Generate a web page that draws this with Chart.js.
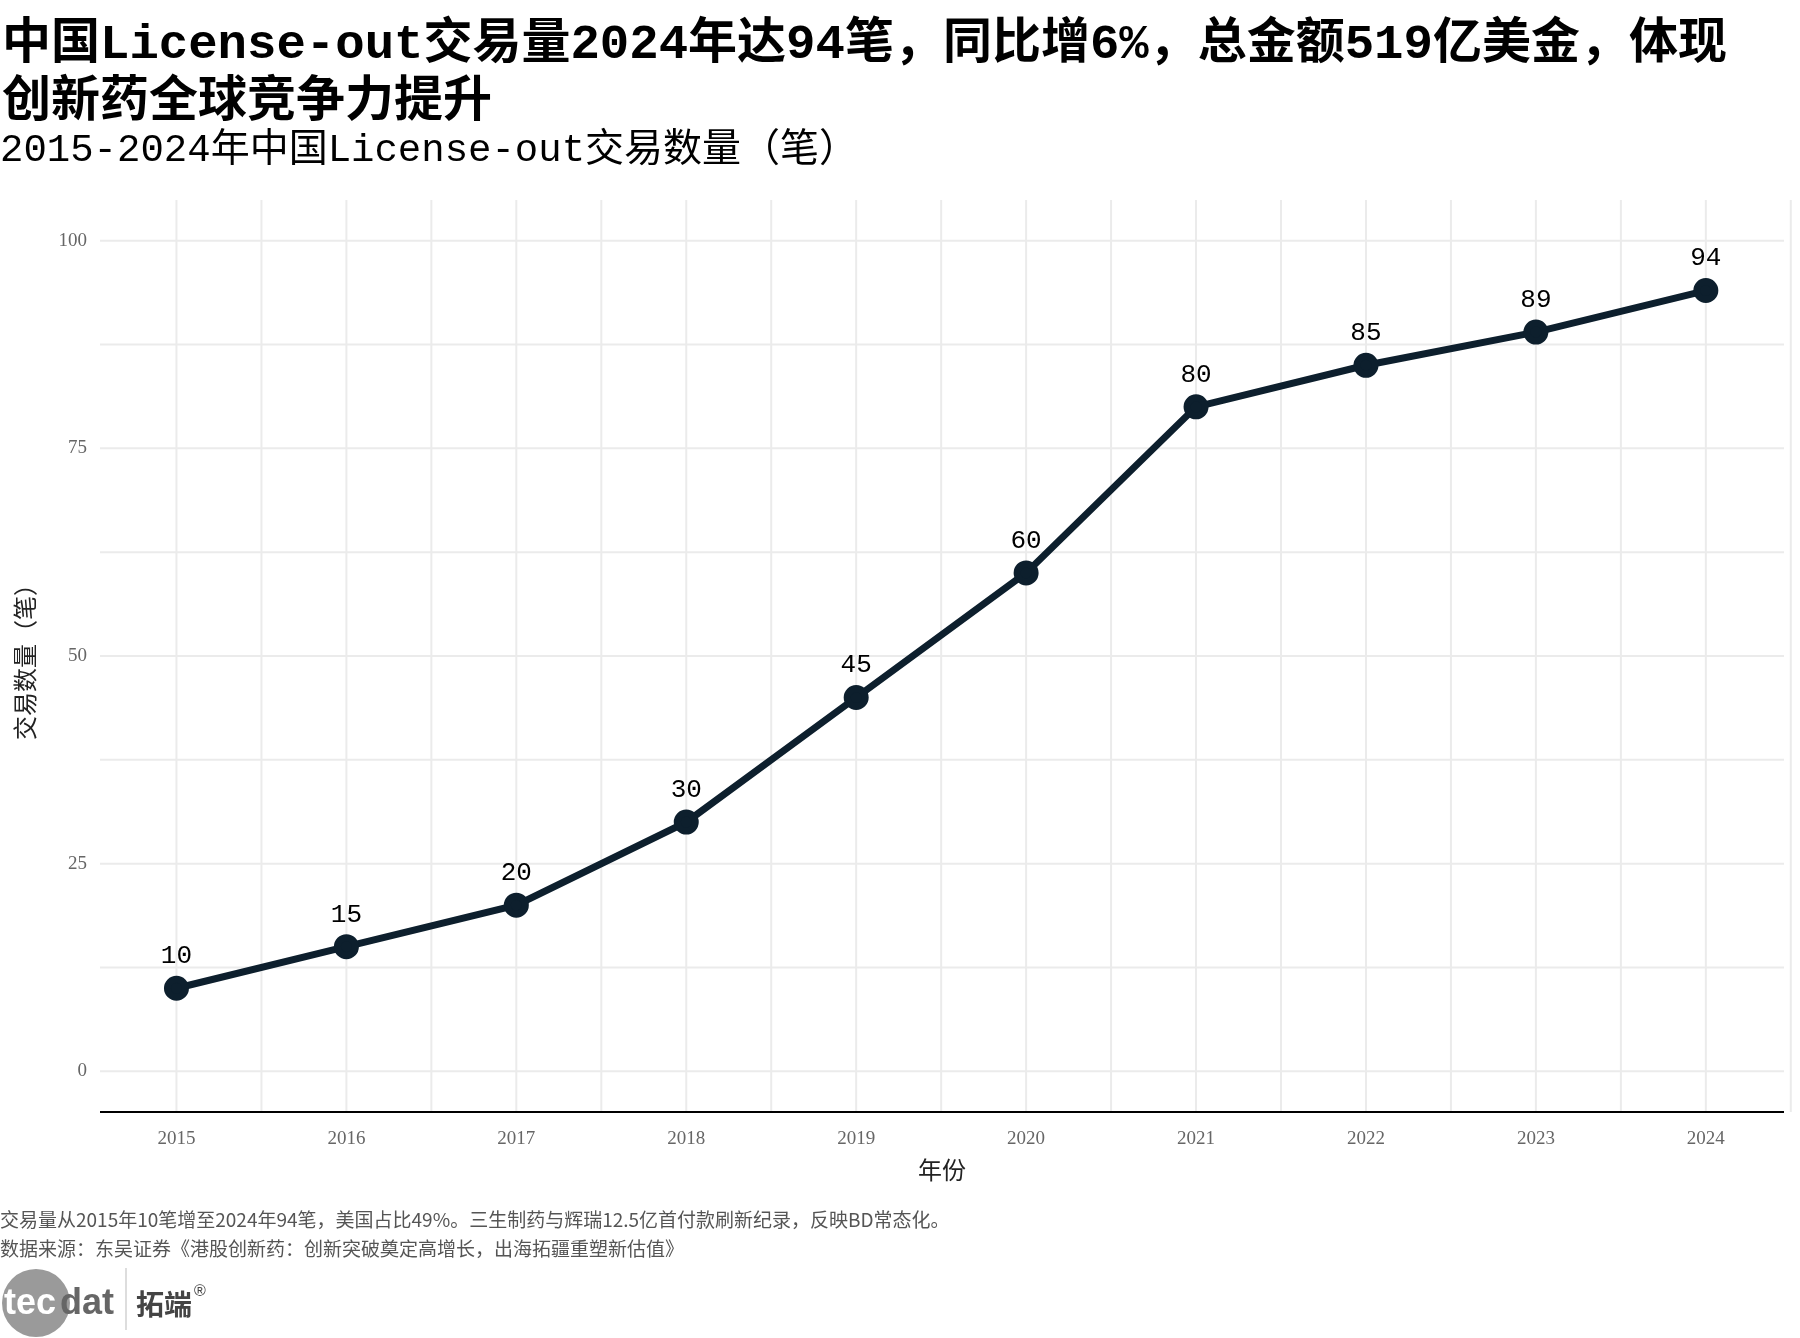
<!DOCTYPE html>
<html><head><meta charset="utf-8">
<script src="https://cdn.jsdelivr.net/npm/chart.js@4"></script>
<style>body{margin:0;background:#fff}</style>
</head><body>
<canvas id="c" width="1800" height="1338"></canvas>
<script>
var years = [2015, 2016, 2017, 2018, 2019, 2020, 2021, 2022, 2023, 2024];
var deals = [10, 15, 20, 30, 45, 60, 80, 85, 89, 94];
var yTicks = [0, 25, 50, 75, 100];

var serif = '"Liberation Mono", "Noto Sans CJK SC", monospace';
var cjk = '"Noto Sans CJK SC", sans-serif';

var decor = {
    id: 'decor',
    beforeDatasetsDraw: function (chart) {
        var ctx = chart.ctx, a = chart.chartArea, x = chart.scales.x, y = chart.scales.y;
        ctx.save();
        ctx.strokeStyle = '#ebebeb';
        ctx.lineWidth = 2;
        for (var v = 0; v <= 100; v += 12.5) {
            var py = y.getPixelForValue(v);
            ctx.beginPath(); ctx.moveTo(a.left, py); ctx.lineTo(a.right, py); ctx.stroke();
        }
        for (var yr = 2015; yr <= 2024.5; yr += 0.5) {
            var px = x.getPixelForValue(yr);
            ctx.beginPath(); ctx.moveTo(px, a.top); ctx.lineTo(px, a.bottom); ctx.stroke();
        }
        ctx.strokeStyle = '#000';
        ctx.lineWidth = 2;
        ctx.beginPath(); ctx.moveTo(a.left, a.bottom); ctx.lineTo(a.right, a.bottom); ctx.stroke();
        ctx.restore();
    },
    afterDraw: function (chart) {
        var ctx = chart.ctx, a = chart.chartArea, x = chart.scales.x, y = chart.scales.y;
        ctx.save();
        ctx.fillStyle = '#000';
        ctx.textBaseline = 'middle';
        ctx.textAlign = 'left';
        ctx.font = 'bold 49px ' + serif;
        ctx.fillText('中国License-out交易量2024年达94笔，同比增6%，总金额519亿美金，体现', 2, 46);
        ctx.fillText('创新药全球竞争力提升', 2, 104);
        ctx.font = '39px ' + serif;
        ctx.fillText('2015-2024年中国License-out交易数量（笔）', 0, 151);

        ctx.fillStyle = '#666';
        ctx.font = '19px "Liberation Serif", serif';
        ctx.textAlign = 'right';
        yTicks.forEach(function (v) { ctx.fillText(String(v), 87, y.getPixelForValue(v)); });
        ctx.textAlign = 'center';
        years.forEach(function (yr) { ctx.fillText(String(yr), x.getPixelForValue(yr), 1139); });

        ctx.fillStyle = '#222';
        ctx.font = '24px ' + cjk;
        ctx.fillText('年份', (a.left + a.right) / 2, 1170);
        ctx.save();
        ctx.translate(25, (a.top + a.bottom) / 2);
        ctx.rotate(-Math.PI / 2);
        ctx.fillText('交易数量（笔）', 0, 0);
        ctx.restore();

        ctx.fillStyle = '#000';
        ctx.font = '26px ' + serif;
        deals.forEach(function (v, i) {
            ctx.fillText(String(v), x.getPixelForValue(years[i]), y.getPixelForValue(v) - 32);
        });

        ctx.fillStyle = '#555';
        ctx.textAlign = 'left';
        ctx.font = '19px ' + cjk;
        ctx.fillText('交易量从2015年10笔增至2024年94笔，美国占比49%。三生制药与辉瑞12.5亿首付款刷新纪录，反映BD常态化。', 0, 1220);
        ctx.fillText('数据来源：东吴证券《港股创新药：创新突破奠定高增长，出海拓疆重塑新估值》', 0, 1249);

        // logo
        ctx.fillStyle = '#9a9a9a';
        ctx.beginPath(); ctx.arc(36, 1303, 34, 0, Math.PI * 2); ctx.fill();
        ctx.font = 'bold 36px "Liberation Sans", sans-serif';
        ctx.fillStyle = '#fff';
        ctx.fillText('tec', 4, 1304);
        ctx.fillStyle = '#666';
        ctx.fillText('dat', 60, 1304);
        ctx.strokeStyle = '#bbb'; ctx.lineWidth = 1;
        ctx.beginPath(); ctx.moveTo(126, 1268); ctx.lineTo(126, 1330); ctx.stroke();
        ctx.fillStyle = '#444';
        ctx.font = 'bold 28px ' + cjk;
        ctx.fillText('拓端', 136, 1304);
        ctx.font = '16px sans-serif';
        ctx.fillText('®', 194, 1292);
        ctx.restore();
    }
};

new Chart(document.getElementById('c').getContext('2d'), {
    type: 'line',
    data: {
        datasets: [{
            label: '交易数量',
            data: years.map(function (yr, i) { return { x: yr, y: deals[i] }; }),
            borderColor: '#0d1f2d',
            backgroundColor: '#0d1f2d',
            borderWidth: 7,
            pointRadius: 9,
            pointHoverRadius: 9,
            tension: 0
        }]
    },
    options: {
        responsive: false,
        devicePixelRatio: 1,
        animation: false,
        layout: { padding: { left: 100, right: 5, top: 200, bottom: 226 } },
        plugins: { legend: { display: false }, tooltip: { enabled: false } },
        scales: {
            x: { type: 'linear', min: 2014.55, max: 2024.46, display: false },
            y: { min: -4.9, max: 104.9, display: false }
        }
    },
    plugins: [decor]
});
</script>
</body></html>
